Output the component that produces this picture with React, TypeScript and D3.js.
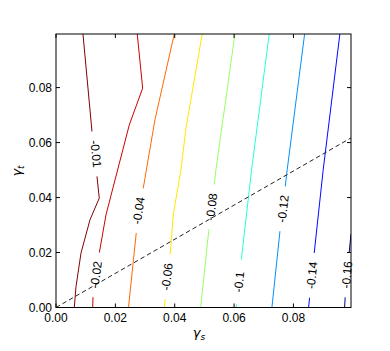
import React from 'react';
import * as d3 from 'd3';

// Contour levels and their label text
const levels = [-0.16, -0.14, -0.12, -0.1, -0.08, -0.06, -0.04, -0.02, -0.01];
const levelLabels = ['-0.16', '-0.14', '-0.12', '-0.1', '-0.08', '-0.06', '-0.04', '-0.02', '-0.01'];
const levelColors = ['#000080', '#0008ff', '#0091ff', '#29ffce', '#97ff60', '#ffe600', '#ff6800', '#cc0000', '#800000'];

// Contour polylines, data coordinates [gamma_s, gamma_t], one per level
const cM016 = [[0.0994, 0.0268], [0.09879, 0.0201], [0.09744, 0.0036], [0.09724, 0]];
const cM014 = [[0.09565, 0.0995], [0.09003, 0.0501], [0.087, 0.0198], [0.08511, 0]];
const cM012 = [[0.08377, 0.0995], [0.0779, 0.0501], [0.07545, 0.0276], [0.07275, 0]];
const cM010 = [[0.07184, 0.0995], [0.06591, 0.0501], [0.06231, 0.0161], [0.06086, 0.0022], [0.06073, 0]];
const cM008 = [[0.06029, 0.0995], [0.05389, 0.0501], [0.05143, 0.0276], [0.04874, 0]];
const cM006 = [[0.04928, 0.0995], [0.04379, 0.0653], [0.0421, 0.0501], [0.03951, 0.0337], [0.0385, 0.0198], [0.03681, 0.0031], [0.03648, 0]];
const cM004 = [[0.03985, 0.0995], [0.03334, 0.0683], [0.0294, 0.0434], [0.02705, 0.0272], [0.02442, 0]];
const cM002 = [[0.02738, 0.0995], [0.0292, 0.0798], [0.02469, 0.0664], [0.01684, 0.0337], [0.01458, 0.0198], [0.01246, 0.0035], [0.01236, 0]];
const cM001 = [[0.00909, 0.0995], [0.01213, 0.064], [0.01381, 0.0476], [0.01458, 0.0398], [0.01145, 0.0319], [0.00842, 0.0198], [0.00674, 0.0076], [0.00616, 0]];
const contourLines = [cM016, cM014, cM012, cM010, cM008, cM006, cM004, cM002, cM001];

// Inline label positions (data coordinates)
const labelX = [0.09801, 0.08622, 0.07646, 0.06164, 0.05237, 0.03739, 0.02779, 0.01347, 0.01347];
const labelY = [0.0119, 0.0117, 0.0359, 0.0093, 0.0366, 0.0112, 0.0353, 0.0119, 0.0559];

// Dashed reference line
const diagX = [0, 0.0994];
const diagY = [0, 0.0617];

// Ticks
const xTicks = [0, 0.02, 0.04, 0.06, 0.08];
const xTickLabels = ['0.00', '0.02', '0.04', '0.06', '0.08'];
const yTicks = [0, 0.02, 0.04, 0.06, 0.08];
const yTickLabels = ['0.00', '0.02', '0.04', '0.06', '0.08'];

const W = 390;
const H = 351;
const L = 56, R = 351, T = 34, B = 307.5;
const FONT = '"Liberation Sans", Arial, sans-serif';

export default function App() {
  const x = d3.scaleLinear().domain([0, 0.0994]).range([L, R]);
  const y = d3.scaleLinear().domain([0, 0.0995]).range([B, T]);
  const line = d3.line<number[]>().x(d => x(d[0])).y(d => y(d[1]));

  // rotation angle of label from local line direction (screen coords)
  const angleAt = (pts: number[][], lx: number, ly: number) => {
    const sp = pts.map(p => [x(p[0]), y(p[1])]);
    const py = y(ly);
    let best = 0, bestD = Infinity;
    for (let i = 0; i < sp.length - 1; i++) {
      const [x0, y0] = sp[i], [x1, y1] = sp[i + 1];
      const ymin = Math.min(y0, y1), ymax = Math.max(y0, y1);
      const d = py < ymin ? ymin - py : py > ymax ? py - ymax : 0;
      if (d < bestD) {
        bestD = d;
        let a = Math.atan2(y1 - y0, x1 - x0) * 180 / Math.PI;
        if (a > 90) a -= 180;
        if (a < -90) a += 180;
        best = a;
      }
    }
    return best;
  };

  const labels = levels.map((lv, i) => ({
    cx: x(labelX[i]),
    cy: y(labelY[i]),
    ang: angleAt(contourLines[i], labelX[i], labelY[i]),
    text: levelLabels[i],
    color: levelColors[i],
  }));

  const tick = 4;

  return (
    <svg width={W} height={H} style={{ position: 'absolute', left: 0, top: 0, background: '#fff' }}
      fontFamily={FONT}>
      <defs>
        <clipPath id="plotClip">
          <rect x={L} y={T} width={R - L} height={B - T} />
        </clipPath>
        <mask id="labelMask" maskUnits="userSpaceOnUse" x={0} y={0} width={W} height={H}>
          <rect x={0} y={0} width={W} height={H} fill="#fff" />
          {labels.map((lb, i) => (
            <rect key={i} x={-22.5} y={-8} width={45} height={16} fill="#000"
              transform={`translate(${lb.cx},${lb.cy}) rotate(${lb.ang})`} />
          ))}
        </mask>
      </defs>
      <rect x={0} y={0} width={W} height={H} fill="#fff" />

      <g clipPath="url(#plotClip)">
        <g mask="url(#labelMask)">
          {contourLines.map((pts, i) => (
            <path key={i} d={line(pts) || ''} fill="none" stroke={levelColors[i]} strokeWidth={1} />
          ))}
        </g>
        <path d={line(diagX.map((v, i) => [v, diagY[i]])) || ''} fill="none" stroke="#222"
          strokeWidth={1} strokeDasharray="4.5,3" />
      </g>

      {labels.map((lb, i) => (
        <text key={i} transform={`translate(${lb.cx},${lb.cy}) rotate(${lb.ang})`}
          textAnchor="middle" dy="0.35em" fontSize={12} fill="#000">{lb.text}</text>
      ))}

      {/* frame */}
      <rect x={L} y={T} width={R - L} height={B - T} fill="none" stroke="#000" strokeWidth={1} />

      {/* x ticks */}
      {xTicks.map((t, i) => (
        <g key={'x' + i}>
          <line x1={x(t)} x2={x(t)} y1={B} y2={B - tick} stroke="#000" />
          <line x1={x(t)} x2={x(t)} y1={T} y2={T + tick} stroke="#000" />
          <text x={x(t)} y={321.5} textAnchor="middle" fontSize={12} fill="#000">{xTickLabels[i]}</text>
        </g>
      ))}
      {/* y ticks */}
      {yTicks.map((t, i) => (
        <g key={'y' + i}>
          <line x1={L} x2={L + tick} y1={y(t)} y2={y(t)} stroke="#000" />
          <line x1={R} x2={R - tick} y1={y(t)} y2={y(t)} stroke="#000" />
          <text x={52} y={y(t)} dy="0.35em" textAnchor="end" fontSize={12} fill="#000">{yTickLabels[i]}</text>
        </g>
      ))}

      {/* axis labels */}
      <text x={199} y={337} textAnchor="middle" fontSize={13} fontStyle="italic" fill="#000"
        fontFamily='"DejaVu Sans", sans-serif'>
        γ<tspan fontSize={9} dy={3}>s</tspan>
      </text>
      <text transform="translate(21,171) rotate(-90)" textAnchor="middle" fontSize={13} fontStyle="italic"
        fill="#000" fontFamily='"DejaVu Sans", sans-serif'>
        γ<tspan fontSize={9} dy={3}>t</tspan>
      </text>
    </svg>
  );
}
